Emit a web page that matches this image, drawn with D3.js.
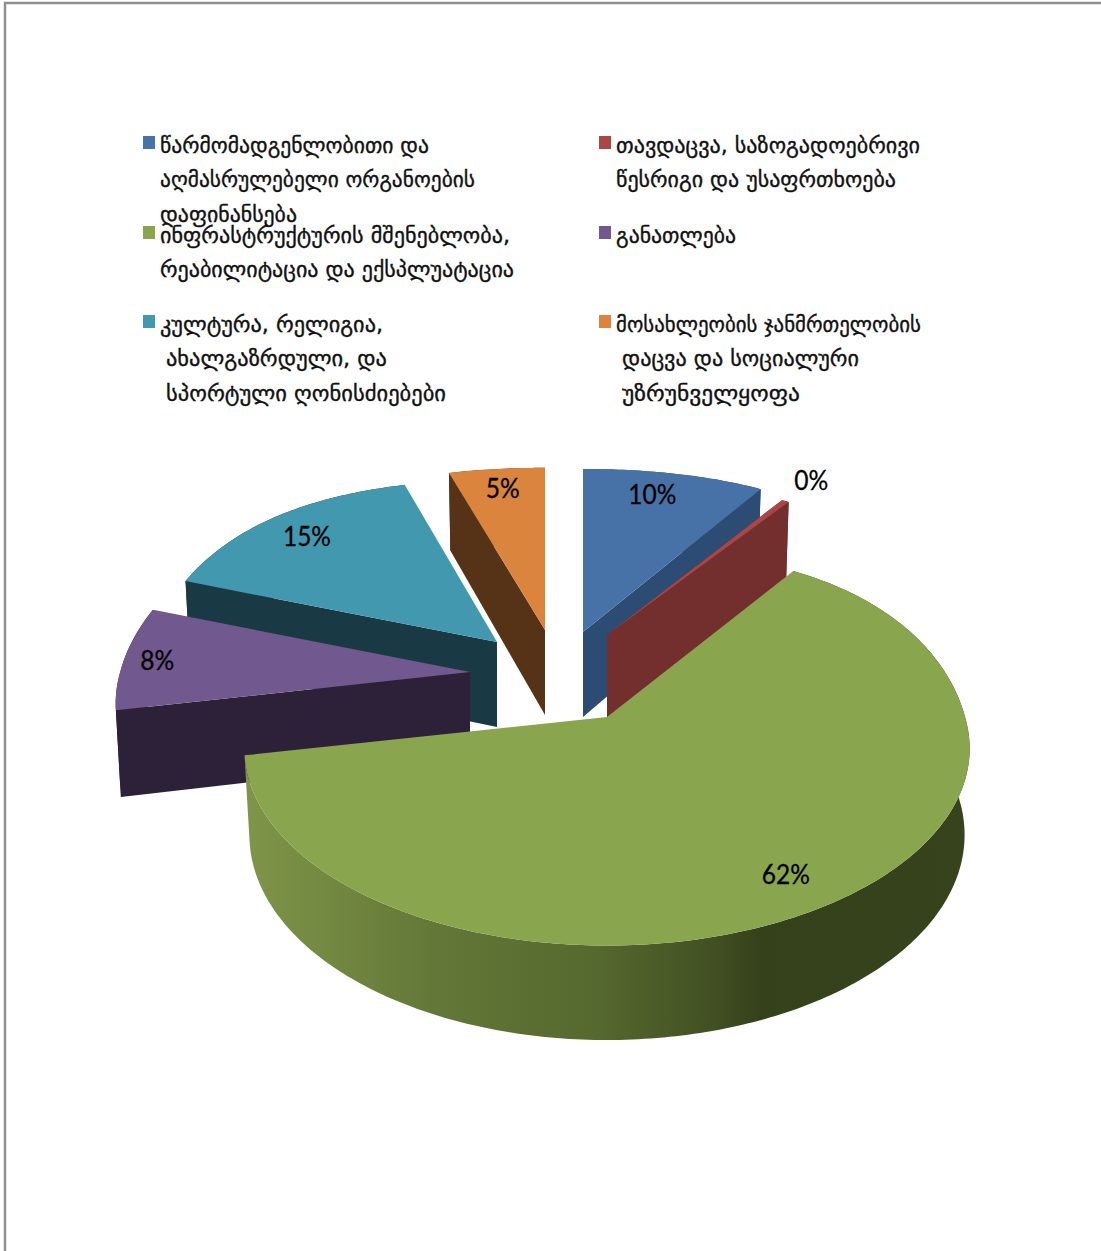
<!DOCTYPE html>
<html><head><meta charset="utf-8">
<script src="https://cdn.jsdelivr.net/npm/d3@7"></script>
<style>html,body{margin:0;padding:0;background:#fff;overflow:hidden}svg{display:block}</style>
</head><body><svg id="c" width="1101" height="1251"></svg>
<script>
// ---- data ----
const categories = ["representative","defence","infrastructure","education","culture","health"];
const values = [9.6, 0.4, 61.9, 8.1, 15, 5];
const legendLines = [
  ["წარმომადგენლობითი და","აღმასრულებელი ორგანოების","დაფინანსება"],
  ["თავდაცვა, საზოგადოებრივი","წესრიგი და უსაფრთხოება"],
  ["ინფრასტრუქტურის მშენებლობა,","რეაბილიტაცია და ექსპლუატაცია"],
  ["განათლება"],
  ["კულტურა, რელიგია,"," ახალგაზრდული, და"," სპორტული ღონისძიებები"],
  ["მოსახლეობის ჯანმრთელობის"," დაცვა და სოციალური"," უზრუნველყოფა"]
];
const topColors  = ["#4672a8","#aa4643","#89a54e","#71588f","#4198af","#db843d"];
const wallColors = ["#2d4c73","#722f2e","#5d7033","#2c2138","#193a45","#563216"];

// ---- layout (separate from data) ----
const apexes = [[583,632],[607,635],[607,717],[470,672],[497,642],[545,630]];
const xSquash = [0.99,0.975,1,0.977,0.96,1];
const ySquash = [0.985,0.93,1.02,1,0.98,0.98];
const labelRadius = [0.838,1.24,0.84,0.907,0.844,0.855];
const labelTurn = [-2,-1.9,0.8,1,-0.8,0];
const legendSpots = [[143,145],[599,145],[143,235],[599,235],[143,324],[599,324]];
const legendWidths = [[269,315,137],[304,280],[350,354],[120],[223,221,280],[305,237,178]];
const Rx=358, Ry=192, perspX=0.16, perspY=0.16, perspZ=0.1, depth=85, rearLift=20;
const drawOrder=[5,4,3,0,1,2];

const svg=d3.select("#c");
const defs=svg.append("defs");
const grad=defs.append("linearGradient").attr("id","wallGrad")
  .attr("gradientUnits","userSpaceOnUse").attr("x1",245).attr("x2",970).attr("y1",0).attr("y2",0);
[[0,"#7f9548"],[0.255,"#647838"],[0.49,"#55682e"],[0.65,"#414f22"],[0.71,"#35411b"],[1,"#37431c"]]
  .forEach(([o,c])=>grad.append("stop").attr("offset",o).attr("stop-color",c));

// frame
svg.append("rect").attr("x",5).attr("y",3).attr("width",1200).attr("height",1300)
  .attr("fill","none").attr("stroke","#8f8f8f").attr("stroke-width",2.5);

const total=d3.sum(values);
const arcs=d3.pie().sort(null).value(d=>d)(values);
const color=d3.scaleOrdinal().domain(categories).range(topColors);
const wall=d3.scaleOrdinal().domain(categories).range(wallColors);

function proj(i,r,t,z){
  const wx=r*Math.sin(t), wy=r*Math.cos(t);
  const k=1-0.014*z/depth;
  const lift=wy>0?rearLift*wy*(1-wy*wy):0;
  const yk=wy>0?ySquash[i]:1;
  return [apexes[i][0]+xSquash[i]*Rx*wx/(1+perspX*wy)*k,
          apexes[i][1]-yk*(Ry*wy/(1+perspY*wy)+lift)+z/(1+perspZ*wy)];
}
const line=d3.line().curve(d3.curveLinear);
const g=svg.append("g");
function arcAngles(a){
  const n=Math.max(2,Math.ceil((a.endAngle-a.startAngle)/0.015));
  return d3.range(n+1).map(j=>a.startAngle+(a.endAngle-a.startAngle)*j/n);
}
drawOrder.forEach(i=>{
  const a=arcs[i], c=categories[i];
  const mid=(a.startAngle+a.endAngle)/2;
  const A=proj(i,0,0,0), C=proj(i,0.5,mid,0);
  [a.startAngle,a.endAngle].forEach(t=>{
    const B=proj(i,1,t,0);
    if(Math.abs(B[0]-A[0])<1) return;
    const yLine=A[1]+(B[1]-A[1])/(B[0]-A[0])*(C[0]-A[0]);
    if(C[1]>=yLine) return;
    g.append("path").attr("d",line([proj(i,0,0,0),proj(i,1,t,0),proj(i,1,t,depth),proj(i,0,0,depth)])+"Z")
      .attr("fill",wall(c));
  });
  const ang=arcAngles(a);
  const outer=ang.map(t=>proj(i,1,t,0)).concat(ang.slice().reverse().map(t=>proj(i,1,t,depth)));
  g.append("path").attr("d",line(outer)+"Z").attr("fill",i===2?"url(#wallGrad)":wall(c));
  g.append("path").attr("d",line([proj(i,0,0,0)].concat(ang.map(t=>proj(i,1,t,0))))+"Z")
    .attr("fill",color(c));
});

// percent labels
arcs.forEach((a,i)=>{
  const mid=(a.startAngle+a.endAngle)/2+labelTurn[i]*Math.PI/180;
  const p=proj(i,labelRadius[i],mid,0);
  const label=Math.round(values[i]/total*100)+"%";
  const w=14*(label.length-1)+20;
  svg.append("text").attr("x",p[0]-w/2).attr("y",p[1]+3).attr("dy","0.35em")
    .attr("font-family","Lato, 'Noto Sans', sans-serif")
    .attr("font-size",27).attr("fill","#000").attr("stroke","#000").attr("stroke-width",0.3)
    .attr("textLength",w).attr("lengthAdjust","spacingAndGlyphs")
    .text(label);
});

// legend
legendLines.forEach((lines,i)=>{
  const [sx,sy]=legendSpots[i];
  svg.append("rect").attr("x",sx).attr("y",sy-9).attr("width",12).attr("height",13).attr("fill",color(categories[i]));
  lines.forEach((t,j)=>{
    const indented=t.startsWith(" ");
    svg.append("text").attr("x",sx+17+(indented?6:0)).attr("y",sy+j*34.3+8)
      .attr("font-family","'DejaVu Sans', sans-serif").attr("font-size",22)
      .attr("fill","#111").attr("stroke","#111").attr("stroke-width",0.35)
      .attr("textLength",legendWidths[i][j]).attr("lengthAdjust","spacingAndGlyphs")
      .text(t.trim());
  });
});
</script></body></html>
